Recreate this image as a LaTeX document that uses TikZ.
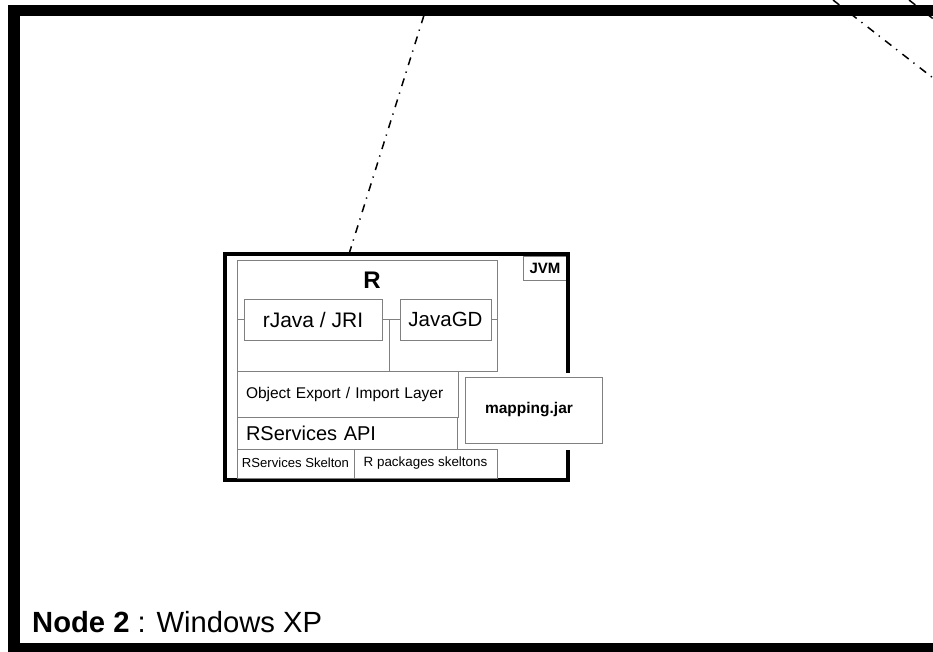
\documentclass[tikz,border=0pt]{standalone}
\usepackage{fontspec}
\setmainfont{Liberation Sans}
\definecolor{cellgrey}{HTML}{808080}
\tikzset{
  cell/.style={draw=cellgrey, line width=1pt, fill=white, inner sep=0pt,
    outer sep=0pt, anchor=north west},
  sz/.style 2 args={minimum width=#1pt, minimum height=#2pt},
  fs/.style={font=\fontsize{#1}{#1}\selectfont},
  wire/.style={draw=cellgrey, line width=1pt},
  dashdot link/.style={line width=1.5pt, line cap=butt,
    dash pattern=on 8pt off 6pt on 1.3pt off 6.7pt},
}
\begin{document}
\begin{tikzpicture}[x=1pt, y=-1pt]
\useasboundingbox (0,0) rectangle (933,651);
\clip (0,0) rectangle (933,651);

% machine frame (continues past the right and bottom edges)
\draw[line width=11.5pt] (13.75,10.5) rectangle (980,648.75);

% JVM container
\node[draw, line width=3.5pt, inner sep=0pt, outer sep=0pt, anchor=north west,
  sz={343}{226}] (jvmframe) at (225,254) {};
\fill[white] (562,373) rectangle (575,450);

% JVM tag
\node[cell, sz={44}{24}, fs=15] (jvmtag) at (523,256) {\bfseries JVM};
\draw[line width=3.5pt] (523,254) -- (568,254) -- (568,282);

% R engine
\node[cell, sz={260}{111}] (rbox) at (237,260) {};
\node[fs=24, inner sep=0pt] (rtitle) at (372,280.5) {\bfseries R};
\node[cell, sz={138}{41}, fs=21] (rjava) at (244,299) {rJava / JRI};
\node[cell, sz={91}{41}, fs=20.5] (javagd) at (400,299) {JavaGD};
\draw[wire] (rjava.west) -- (rjava.west -| rbox.west);
\draw[wire] (javagd.east) -- (javagd.east -| rbox.east);
\draw[wire] (rjava.east) -- (javagd.west);
\coordinate (tee) at ([xshift=7pt]rjava.east);
\draw[wire] (tee) -- (tee |- rbox.south);

% layers below R
\node[cell, sz={221}{46}, fs=15.5, text width=203pt, inner xsep=9pt, align=left]
  (objlayer) at (237,371) {\raisebox{1.5pt}{Object Export / Import Layer}};
\node[cell, sz={220}{32}, fs=20, text width=202pt, inner xsep=9pt, align=left]
  (rsapi) at (237,417) {RServices API};
\node[cell, sz={117}{29}, fs=13.1] (rsskel) at (237,449) {\raisebox{1pt}{RServices Skelton}};
\node[cell, sz={143}{29}, fs=13.4] (rpkgskel) at (354,449) {\raisebox{1pt}{R packages skeltons}};

% mapping archive
\node[cell, sz={137}{66}, fs=15.5] (mapping) at (465,377) {\hspace*{-9pt}\bfseries mapping.jar};

% links leaving the machine
\coordinate (upstart) at (349,254);
\coordinate (upend) at (425,12);
\draw[dashdot link] (upstart) -- (upend);
\coordinate (diagA1) at (833,0);
\coordinate (diagA2) at (933,78);
\draw[dashdot link] (diagA1) -- (diagA2);
\coordinate (diagB1) at (909,0);
\coordinate (diagB2) at (945,28);
\draw[dashdot link] (diagB1) -- (diagB2);

% machine caption
\node[anchor=base west, inner sep=0pt, fs=29.2] (caption) at (32,632)
  {\bfseries Node 2\mdseries{} : Windows XP};
\end{tikzpicture}
\end{document}
